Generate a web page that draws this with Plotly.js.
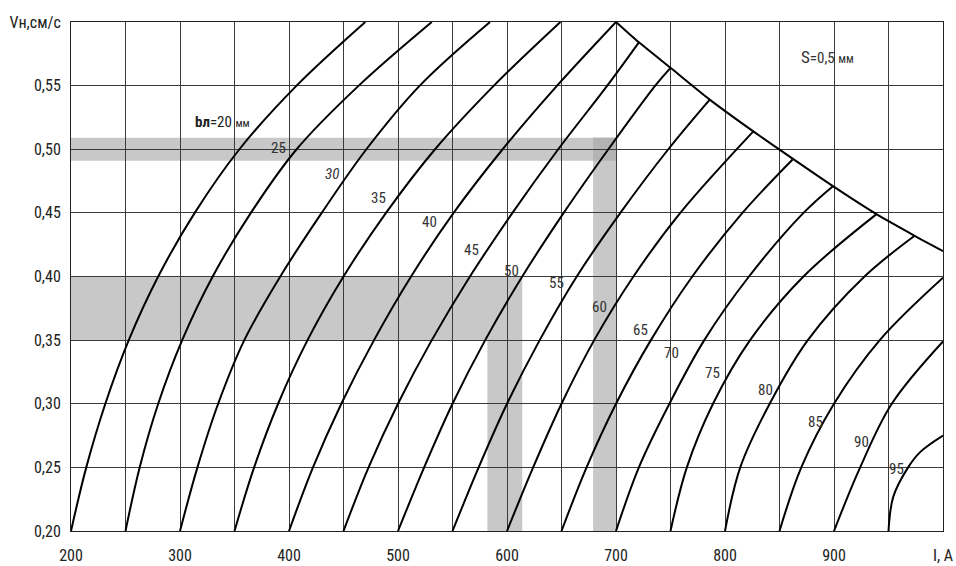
<!DOCTYPE html>
<html>
<head>
<meta charset="utf-8">
<script src="https://cdn.plot.ly/plotly-3.0.1.min.js"></script>
<style>html,body{margin:0;padding:0;background:#fff;}#chart{width:956px;height:566px;}</style>
</head>
<body>
<div id="chart"></div>
<script>
// ---- data ----
const xTickVals = [200,250,300,350,400,450,500,550,600,650,700,750,800,850,900,950,1000];
const xTickText = ['200','','300','','400','','500','','600','','700','','800','','900','','I, A'];
const yTickVals = [0.20,0.25,0.30,0.35,0.40,0.45,0.50,0.55,0.60];
const yTickText = ['0,20','0,25','0,30','0,35','0,40','0,45','0,50','0,55','Vн,см/с'];

const curveNames = [20,25,30,35,40,45,50,55,60,65,70,75,80,85,90,95];

const I20 = [200,214,231.5,253,280,313.5,354.5,407,470];
const V20 = [0.20,0.25,0.30,0.35,0.40,0.45,0.50,0.55,0.60];
const I25 = [250,263,280,302,330,365,407,464,531];
const V25 = [0.20,0.25,0.30,0.35,0.40,0.45,0.50,0.55,0.60];
const I30 = [300,316,335,359,392,430,471,520,584.4];
const V30 = [0.20,0.25,0.30,0.35,0.40,0.45,0.50,0.55,0.60];
const I35 = [350,368,390,417,450,489,534,588,649];
const V35 = [0.20,0.25,0.30,0.35,0.40,0.45,0.50,0.55,0.60];
const I40 = [400,422,448,478,512,551,596,646,700];
const V40 = [0.20,0.25,0.30,0.35,0.40,0.45,0.50,0.55,0.60];
const I45 = [450,473,500,531,566,605,647,692,721];
const V45 = [0.20,0.25,0.30,0.35,0.40,0.45,0.50,0.55,0.584];
const I50 = [500,524,550,580,614,652,693,736,750];
const V50 = [0.20,0.25,0.30,0.35,0.40,0.45,0.50,0.55,0.564];
const I55 = [550,574,600,630,664,704,748,786];
const V55 = [0.20,0.25,0.30,0.35,0.40,0.45,0.50,0.539];
const I60 = [600,624,650,680,716,759,826];
const V60 = [0.20,0.25,0.30,0.35,0.40,0.45,0.514];
const I65 = [650,673,700,732,770,816,862];
const V65 = [0.20,0.25,0.30,0.35,0.40,0.45,0.492];
const I70 = [700,721,749,781,822,872,899];
const V70 = [0.20,0.25,0.30,0.35,0.40,0.45,0.471];
const I75 = [750,765,789,823,872,939];
const V75 = [0.20,0.25,0.30,0.35,0.40,0.449];
const I80 = [800,814,841,876,928,974];
const V80 = [0.20,0.25,0.30,0.35,0.40,0.432];
const I85 = [850,870,900,942,1000];
const V85 = [0.20,0.25,0.30,0.35,0.399];
const I90 = [900,924,953,1000];
const V90 = [0.20,0.25,0.30,0.349];
const I95 = [950,954.4,968,979,1000];
const V95 = [0.20,0.227,0.25,0.262,0.275];

// boundary line (upper right limit)
const boundI = [700,721,750,786,826,863,899,939,974,1000];
const boundV = [0.60,0.584,0.564,0.539,0.514,0.492,0.471,0.449,0.432,0.420];

// curve number labels (position)
const labelText = ['25','<i>30</i>','35','40','45','50','55','60','65','70','75','80','85','90','95'];
const labelI = [390,439.4,481.9,528.7,567.6,604.3,645.6,685.3,722.7,751.1,788.7,836.7,882.6,925.4,957.5];
const labelV = [0.5012,0.4807,0.4616,0.4427,0.4209,0.4046,0.3947,0.3763,0.358,0.3396,0.3243,0.3107,0.2858,0.27,0.2491];

// grey example bands
const bandLowV = [0.35,0.40];
const bandLowI = [200,614];
const stripLowI = [582,614];
const bandHighV = [0.491,0.509];
const bandHighI = [200,700];
const stripHighI = [679,700];
const axisMin = [200,0.20];

// ---- build ----
const curvesI = [I20,I25,I30,I35,I40,I45,I50,I55,I60,I65,I70,I75,I80,I85,I90,I95];
const curvesV = [V20,V25,V30,V35,V40,V45,V50,V55,V60,V65,V70,V75,V80,V85,V90,V95];

const FONT = '"Liberation Sans Narrow","Roboto Condensed","DejaVu Sans Condensed",Roboto,Arial,sans-serif';

const traces = curvesI.map((xs, k) => ({
  type: 'scatter', mode: 'lines', x: xs, y: curvesV[k],
  name: 'bл=' + curveNames[k],
  line: {color: '#000', width: 2, shape: 'spline', smoothing: 1},
  hoverinfo: 'skip', showlegend: false
}));
traces.push({
  type: 'scatter', mode: 'lines', x: boundI, y: boundV,
  line: {color: '#000', width: 2, shape: 'spline', smoothing: 0.6},
  hoverinfo: 'skip', showlegend: false
});

const grey = '#c8c8c8';
const shapes = [
  {type:'rect', xref:'x', yref:'y', x0:bandLowI[0], x1:bandLowI[1], y0:bandLowV[0], y1:bandLowV[1], fillcolor:grey, line:{width:0}, layer:'below'},
  {type:'rect', xref:'x', yref:'y', x0:stripLowI[0], x1:stripLowI[1], y0:axisMin[1], y1:bandLowV[0], fillcolor:grey, line:{width:0}, layer:'below'},
  {type:'rect', xref:'x', yref:'y', x0:bandHighI[0], x1:bandHighI[1], y0:bandHighV[0], y1:bandHighV[1], fillcolor:grey, line:{width:0}, layer:'below'},
  {type:'rect', xref:'x', yref:'y', x0:stripHighI[0], x1:stripHighI[1], y0:axisMin[1], y1:bandHighV[1], fillcolor:grey, line:{width:0}, layer:'below'},
  {type:'rect', xref:'x', yref:'y', x0:stripHighI[0], x1:stripHighI[1], y0:bandHighV[0], y1:bandHighV[1], fillcolor:'#b3b3b3', line:{width:0}, layer:'below'}
];

const annotations = labelText.map((t, k) => ({
  x: labelI[k], y: labelV[k], xref:'x', yref:'y', text: t, showarrow:false,
  font:{family:FONT, size:15, color:'#333'}
}));
annotations.push({
  x: 339, y: 0.5217, xref:'x', yref:'y', showarrow:false,
  text: '<b>bл</b>=20 <span style="font-size:11px">мм</span>',
  font:{family:FONT, size:15, color:'#222'}
});
annotations.push({
  x: 893.6, y: 0.5728, xref:'x', yref:'y', showarrow:false,
  text: '<span style="font-size:17px">S</span>=0,5 <span style="font-size:12px">мм</span>',
  font:{family:FONT, size:15, color:'#333'}
});

const layout = {
  width: 956, height: 566,
  margin: {l:71, r:13, t:22, b:35, pad:0},
  paper_bgcolor:'#fff', plot_bgcolor:'#fff',
  showlegend:false,
  font:{family:FONT, size:16, color:'#222'},
  xaxis: {
    range:[200,1000], tickmode:'array', tickvals:xTickVals, ticktext:xTickText,
    showgrid:true, gridcolor:'#3a3a3a', gridwidth:1, zeroline:false,
    showline:true, linecolor:'#222', linewidth:1, mirror:true,
    ticks:'outside', ticklen:10, tickcolor:'rgba(0,0,0,0)',
    tickfont:{family:FONT, size:16, color:'#222'}, fixedrange:true
  },
  yaxis: {
    range:[0.20,0.60], tickmode:'array', tickvals:yTickVals, ticktext:yTickText,
    showgrid:true, gridcolor:'#3a3a3a', gridwidth:1, zeroline:false,
    showline:true, linecolor:'#222', linewidth:1, mirror:true,
    ticks:'outside', ticklen:6, tickcolor:'rgba(0,0,0,0)',
    tickfont:{family:FONT, size:16, color:'#222'}, fixedrange:true
  },
  shapes: shapes,
  annotations: annotations
};

Plotly.newPlot('chart', traces, layout, {staticPlot:true, displayModeBar:false});
</script>
</body>
</html>
